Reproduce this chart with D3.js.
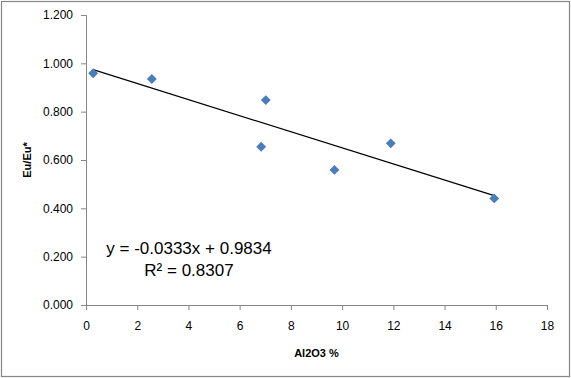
<!DOCTYPE html>
<html>
<head>
<meta charset="utf-8">
<script src="https://cdn.jsdelivr.net/npm/d3@7"></script>
<style>
  body { margin: 0; background: white; }
  text { font-family: "Liberation Sans", Arial, sans-serif; }
</style>
</head>
<body>
<div id="chart"></div>
<script>
// data
const al2o3 = [0.28, 2.57, 6.84, 7.02, 9.70, 11.90, 15.94];
const euRatio = [0.959, 0.935, 0.655, 0.848, 0.559, 0.669, 0.441];
const xTicks = [0, 2, 4, 6, 8, 10, 12, 14, 16, 18];
const yTicks = [0, 0.2, 0.4, 0.6, 0.8, 1.0, 1.2];
const trend = {slope: -0.0333, intercept: 0.9834, r2: 0.8307};

const width = 571;
const height = 378;
const margin = {t: 15, b: 73, l: 86, r: 24};

const svg = d3.select("#chart")
    .append("svg")
    .attr("width", width)
    .attr("height", height)
    .attr("viewBox", [0, 0, width, height]);

// outer frame
svg.append("rect")
    .attr("x", 1.5).attr("y", 1.5)
    .attr("width", width - 3).attr("height", height - 3)
    .attr("fill", "white")
    .attr("stroke", "#868686")
    .attr("stroke-width", 1.2);

const x = d3.scaleLinear().domain([0, 18]).range([margin.l, width - margin.r]);
const y = d3.scaleLinear().domain([0, 1.2]).range([height - margin.b, margin.t]);

const xAxis = svg.append("g")
    .attr("transform", `translate(0,${y(0)})`)
    .call(d3.axisBottom(x).tickValues(xTicks).tickSize(5).tickPadding(11).tickFormat(d3.format("d")));

const yAxis = svg.append("g")
    .attr("transform", `translate(${x(0)},0)`)
    .call(d3.axisLeft(y).tickValues(yTicks).tickSize(5).tickPadding(8).tickFormat(d3.format(".3f")));

[xAxis, yAxis].forEach(g => {
    g.select(".domain").attr("stroke", "#868686");
    g.selectAll(".tick line").attr("stroke", "#868686");
    g.selectAll(".tick text")
        .attr("fill", "#000")
        .attr("font-size", "12px")
        .attr("font-family", "Liberation Sans, Arial, sans-serif");
});

// axis titles
svg.append("text")
    .attr("x", (x(0) + x(18)) / 2)
    .attr("y", 357)
    .attr("text-anchor", "middle")
    .attr("font-size", "11px")
    .attr("font-weight", "bold")
    .text("Al2O3 %");

svg.append("text")
    .attr("transform", `translate(31,${(y(0) + y(1.2)) / 2}) rotate(-90)`)
    .attr("text-anchor", "middle")
    .attr("font-size", "11px")
    .attr("font-weight", "bold")
    .text("Eu/Eu*");

// linear trendline over the data range
const xExt = d3.extent(al2o3);
svg.append("line")
    .attr("x1", x(xExt[0]))
    .attr("y1", y(trend.slope * xExt[0] + trend.intercept))
    .attr("x2", x(xExt[1]))
    .attr("y2", y(trend.slope * xExt[1] + trend.intercept))
    .attr("stroke", "#000")
    .attr("stroke-width", 1.2);

// points
const points = al2o3.map((d, i) => ({x: d, y: euRatio[i]}));
svg.selectAll(".pt")
    .data(points)
    .enter()
    .append("path")
    .attr("class", "pt")
    .attr("d", d3.symbol().type(d3.symbolDiamond2).size(62))
    .attr("transform", d => `translate(${x(d.x)},${y(d.y)})`)
    .attr("fill", "#4a7ebb");

// equation label
svg.append("text")
    .attr("x", 189)
    .attr("y", 254)
    .attr("text-anchor", "middle")
    .attr("font-size", "17px")
    .text(`y = ${trend.slope}x + ${trend.intercept}`);
svg.append("text")
    .attr("x", 189)
    .attr("y", 276)
    .attr("text-anchor", "middle")
    .attr("font-size", "17px")
    .text(`R² = ${trend.r2}`);
</script>
</body>
</html>
